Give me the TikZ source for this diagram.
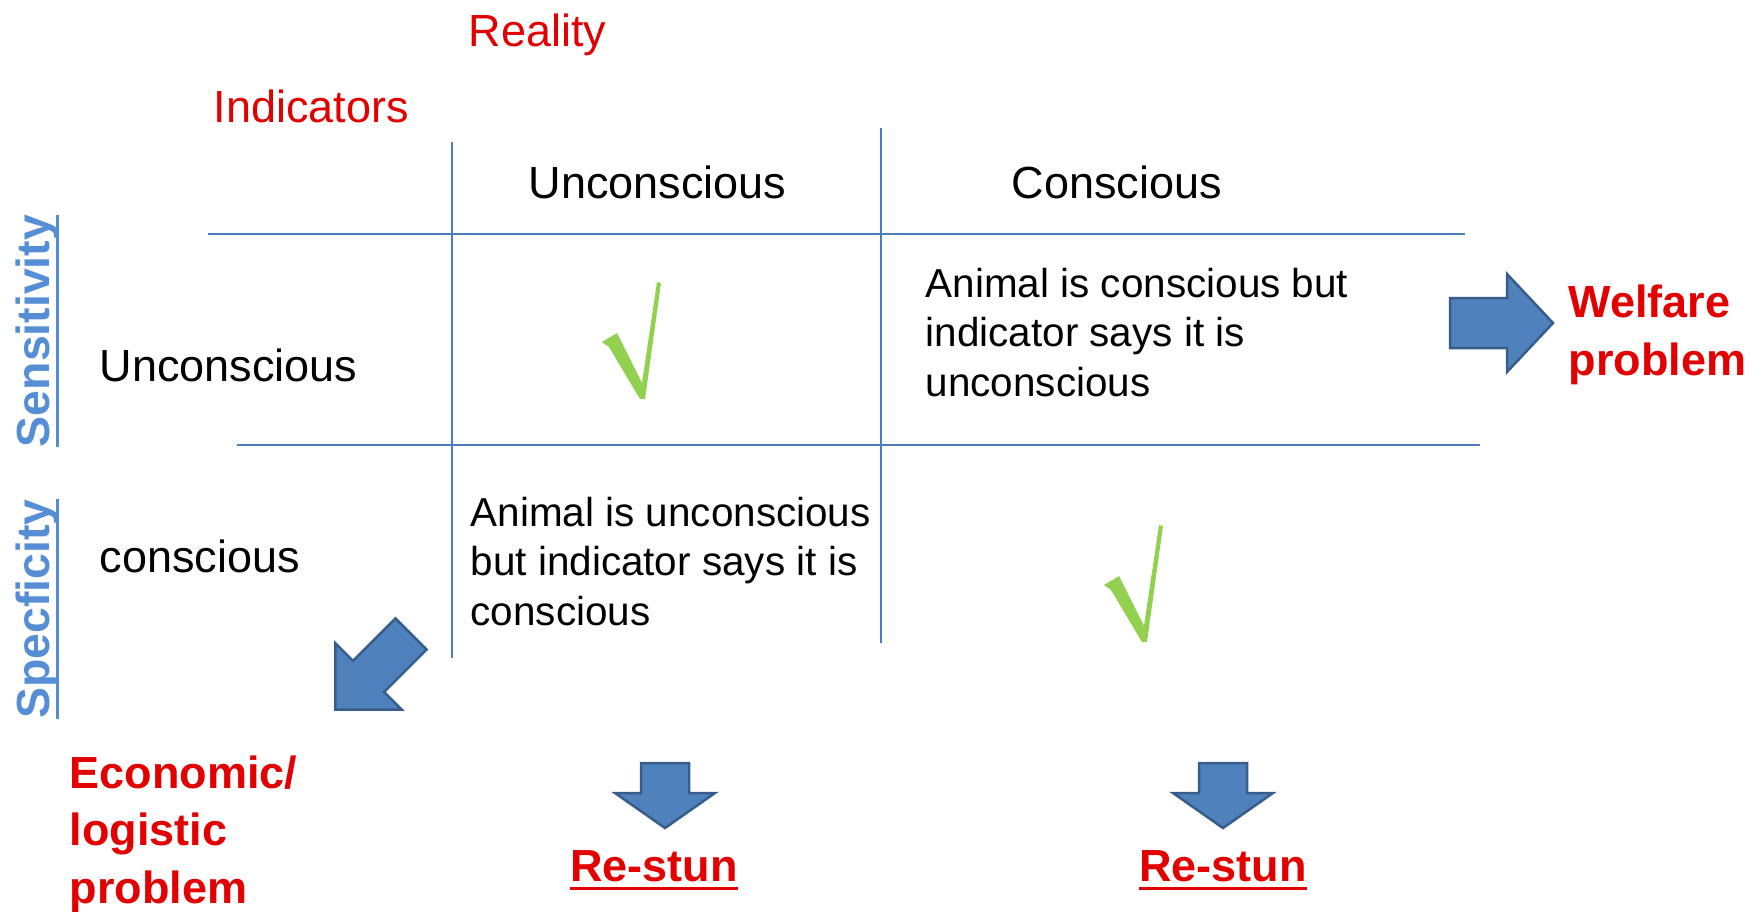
\documentclass[tikz,border=0pt]{standalone}
\usepackage{fontspec}
\setmainfont{Liberation Sans}
\usepackage{tikz}
\usetikzlibrary{positioning}
\definecolor{labelred}{RGB}{226,0,0}
\definecolor{gridblue}{RGB}{74,126,187}
\definecolor{axisblue}{RGB}{85,142,213}
\definecolor{arrowfill}{RGB}{79,129,189}
\definecolor{arrowline}{RGB}{56,93,138}
\definecolor{tickgreen}{RGB}{146,208,80}
\newcommand{\ULine}[1]{\setbox0\hbox{#1}\rlap{\rule[-0.2em]{\wd0}{0.07em}}\box0}
\newcommand{\BlockArrow}[6]{%
  \begin{scope}[shift={#1},rotate=#2]
    \draw[bigarrow] (0,-#6) -- (#3-#4,-#6) -- (#3-#4,-#5) -- (#3,0)
      -- (#3-#4,#5) -- (#3-#4,#6) -- (0,#6) -- cycle;
  \end{scope}}
\newcommand{\Tick}[1]{%
  \fill[tickgreen,shift={#1}] (-41,-55) -- (-26,-64) -- (-1,-14) -- (14,-115)
    -- (18,-114) -- (2,2) -- (-3,2) -- (-34,-50) -- cycle;}

\begin{document}
\begin{tikzpicture}[x=0.01cm,y=-0.01cm
        ,every node/.style={inner sep=0pt}
        ,colhead/.style = {font=\fontsize{12.8}{15}\selectfont, anchor=base west}
        ,redlabel/.style = {colhead, text=labelred}
        ,cell/.style = {font=\fontsize{11.5}{13.94}\selectfont, anchor=base west, align=left}
        ,axislabel/.style = {font=\bfseries\fontsize{13.2}{15}\selectfont, text=axisblue, rotate=90, anchor=base}
        ,outcome/.style = {font=\bfseries\fontsize{12.8}{16.3}\selectfont, text=labelred, align=left, anchor=base west}
        ,gridline/.style = {draw=gridblue, line width=0.015cm}
        ,bigarrow/.style = {fill=arrowfill, draw=arrowline, line width=0.025cm, line join=miter}
      ]
      \useasboundingbox (0,0) rectangle (1756,912);

      \node[redlabel] (reality) at (468,47) {Reality};
      \node[redlabel] (indicators) at (213,122) {Indicators};

      \draw[gridline] (208,234) -- (1465,234);
      \draw[gridline] (237,445) -- (1480,445);
      \draw[gridline] (452,142) -- (452,658);
      \draw[gridline] (881,128) -- (881,643);

      \node[colhead] (colunc) at (528,198) {Unconscious};
      \node[colhead] (colcon) at (1011,198) {Conscious};
      \node[colhead] (rowunc) at (99,381) {Unconscious};
      \node[colhead] (rowcon) at (99,572) {conscious};

      \node[axislabel] (sens) at (50,331) {\ULine{Sensitivity}};
      \node[axislabel] (spec) at (50,609) {\ULine{Specficity}};

      % base of a multi-line node is its last line
      \node[cell] (falseneg) at (925,396) {Animal is conscious but\\indicator says it is\\unconscious};
      \node[cell] (falsepos) at (470,625) {Animal is unconscious\\but indicator says it is\\conscious};
      \Tick{(643,397)}
      \Tick{(1145,640)}

      \BlockArrow{(1450,323)}{0}{103}{46}{49}{25}
      \BlockArrow{(411,634)}{-135}{107}{47}{47}{22}
      \BlockArrow{(665,763)}{-90}{65}{35}{50}{24}
      \BlockArrow{(1223,763)}{-90}{65}{35}{50}{24}

      \node[outcome] (welfare) at (1568,375) {Welfare\\problem};
      \node[outcome] (econ) at (69,903) {Economic/\\logistic\\problem};
      \node[outcome, anchor=base] (restunleft) at (654,881) {\ULine{Re-stun}};
      \node[outcome, anchor=base] (restunright) at (1223,881) {\ULine{Re-stun}};
    \end{tikzpicture}
\end{document}
